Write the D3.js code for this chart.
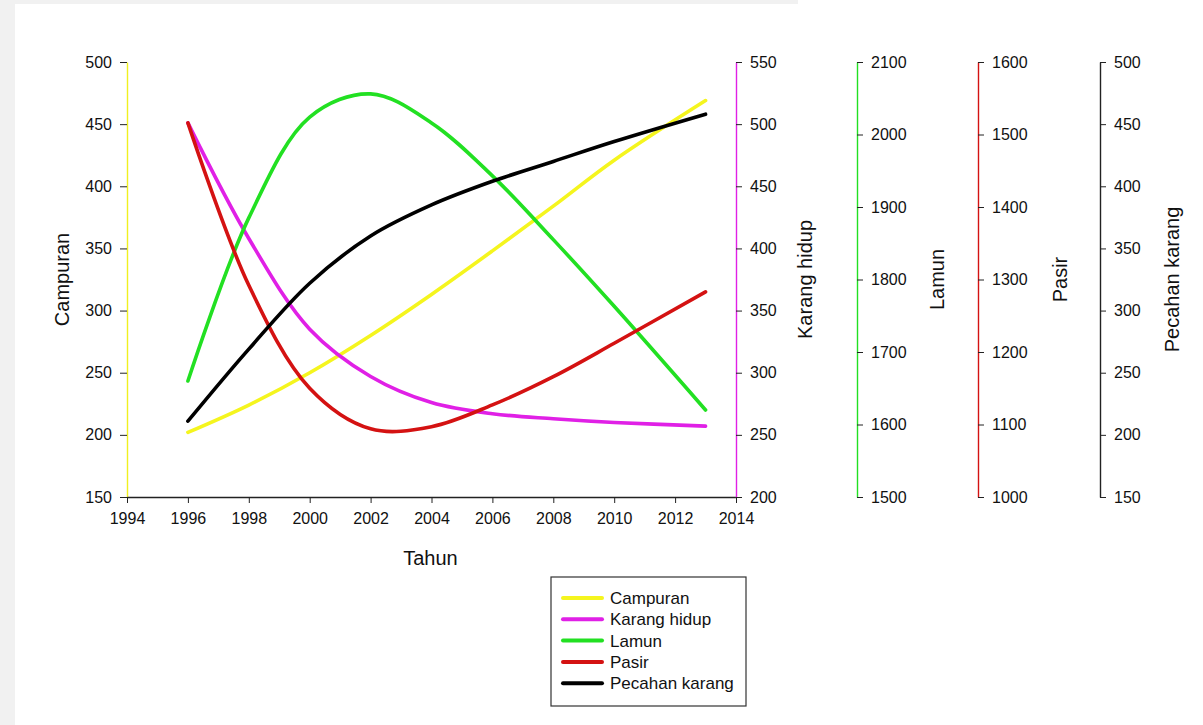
<!DOCTYPE html>
<html lang="en">
<head>
  <meta charset="UTF-8">
  <script src="https://cdn.jsdelivr.net/npm/d3@7/dist/d3.min.js"></script>
  <title>Tahun</title>
  <style>
    body { margin: 0; background: #fff; }
    * { font-family: "Liberation Sans", Arial, sans-serif; }
  </style>
</head>
<body>
<div id="chart"></div>
<script>
  // data
  var years = [1996, 1998, 2000, 2002, 2004, 2006, 2008, 2010, 2013];
  var campuran = [202, 224, 250, 280, 313, 348, 384, 421, 469];
  var karangHidup = [501, 408, 335, 297, 276, 267, 263, 260, 257];
  var lamun = [1660, 1885, 2024, 2056, 2016, 1943, 1855, 1763, 1620];
  var pasir = [1516, 1292, 1150, 1094, 1097, 1127, 1166, 1212, 1283];
  var pecahan = [211, 269, 322, 360, 385, 404, 420, 436, 458];
  var xTicks = [1994, 1996, 1998, 2000, 2002, 2004, 2006, 2008, 2010, 2012, 2014];

  var width = 1203, height = 725;
  var margin = {top: 62, left: 127};
  var plotW = 609, plotH = 435;

  var svg = d3.select("#chart").append("svg")
    .attr("width", width).attr("height", height);

  // grey frame of the screenshot
  svg.append("rect").attr("x", 0).attr("y", 0).attr("width", 15).attr("height", height).attr("fill", "#f1f1f1");
  svg.append("rect").attr("x", 0).attr("y", 0).attr("width", 798).attr("height", 4).attr("fill", "#f1f1f1");

  var g = svg.append("g").attr("transform", "translate(" + margin.left + "," + margin.top + ")");

  var x = d3.scaleLinear().domain([1994, 2014]).range([0, plotW]);
  var yCamp = d3.scaleLinear().domain([150, 500]).range([plotH, 0]);
  var yKar = d3.scaleLinear().domain([200, 550]).range([plotH, 0]);
  var yLam = d3.scaleLinear().domain([1500, 2100]).range([plotH, 0]);
  var yPas = d3.scaleLinear().domain([1000, 1600]).range([plotH, 0]);
  var yPec = d3.scaleLinear().domain([150, 500]).range([plotH, 0]);

  var series = [
    {name: "Campuran", vals: campuran, y: yCamp, color: "#f5f51e"},
    {name: "Karang hidup", vals: karangHidup, y: yKar, color: "#e020e6"},
    {name: "Lamun", vals: lamun, y: yLam, color: "#22e022"},
    {name: "Pasir", vals: pasir, y: yPas, color: "#d41212"},
    {name: "Pecahan karang", vals: pecahan, y: yPec, color: "#000000"}
  ];

  function styleAxis(sel, lineColor) {
    sel.attr("font-size", 16).attr("font-family", "'Liberation Sans', Arial, sans-serif");
    sel.selectAll("text").attr("fill", "#111");
    sel.selectAll(".tick line").attr("stroke", "#222");
    sel.select(".domain").attr("stroke", lineColor).attr("stroke-width", 1.4);
  }

  // left axis
  g.append("g")
    .call(d3.axisLeft(yCamp).tickValues(d3.range(150, 501, 50)).tickSizeInner(7).tickSizeOuter(0).tickPadding(8))
    .call(styleAxis, "#f0f020");

  // bottom axis
  g.append("g")
    .attr("transform", "translate(0," + plotH + ")")
    .call(d3.axisBottom(x).tickValues(xTicks).tickFormat(d3.format("d")).tickSizeInner(6).tickSizeOuter(0).tickPadding(10))
    .call(styleAxis, "#222");

  // right axes
  var rightAxes = [
    {scale: yKar, ticks: d3.range(200, 551, 50), pos: plotW, color: "#e020e6", title: "Karang hidup", tx: 678},
    {scale: yLam, ticks: d3.range(1500, 2101, 100), pos: 730, color: "#22e022", title: "Lamun", tx: 810},
    {scale: yPas, ticks: d3.range(1000, 1601, 100), pos: 851, color: "#d41212", title: "Pasir", tx: 933},
    {scale: yPec, ticks: d3.range(150, 501, 50), pos: 973, color: "#222", title: "Pecahan karang", tx: 1045}
  ];

  rightAxes.forEach(function(a) {
    g.append("g")
      .attr("transform", "translate(" + a.pos + ",0)")
      .call(d3.axisRight(a.scale).tickValues(a.ticks).tickFormat(d3.format("d")).tickSizeInner(6).tickSizeOuter(0).tickPadding(8))
      .call(styleAxis, a.color);
    g.append("text")
      .attr("transform", "translate(" + a.tx + "," + (plotH / 2) + ") rotate(-90)")
      .attr("text-anchor", "middle")
      .attr("dy", "0.35em")
      .attr("font-size", 20)
      .attr("fill", "#111")
      .text(a.title);
  });

  // axis titles
  g.append("text")
    .attr("transform", "translate(" + (-65) + "," + (plotH / 2) + ") rotate(-90)")
    .attr("text-anchor", "middle").attr("dy", "0.35em")
    .attr("font-size", 20).attr("fill", "#111")
    .text("Campuran");

  g.append("text")
    .attr("x", plotW / 2 - 1).attr("y", plotH + 68)
    .attr("text-anchor", "middle")
    .attr("font-size", 20).attr("fill", "#111")
    .text("Tahun");

  // lines
  series.forEach(function(s) {
    var line = d3.line()
      .x(function(d, i) { return x(years[i]); })
      .y(function(d) { return s.y(d); })
      .curve(d3.curveCatmullRom.alpha(0.5));
    g.append("path")
      .datum(s.vals)
      .attr("fill", "none")
      .attr("stroke", s.color)
      .attr("stroke-width", 3.6)
      .attr("stroke-linecap", "round")
      .attr("d", line);
  });

  // legend
  var lg = svg.append("g").attr("transform", "translate(551,577)");
  lg.append("rect").attr("width", 195).attr("height", 129)
    .attr("fill", "#fff").attr("stroke", "#333").attr("stroke-width", 1.2);
  var item = lg.selectAll(".item").data(series).enter().append("g")
    .attr("transform", function(d, i) { return "translate(0," + (21 + i * 21.3) + ")"; });
  item.append("line").attr("x1", 12).attr("x2", 51)
    .attr("stroke", function(d) { return d.color; }).attr("stroke-width", 4)
    .attr("stroke-linecap", "round");
  item.append("text").attr("x", 59).attr("dy", "0.35em")
    .attr("font-size", 17).attr("fill", "#111")
    .text(function(d) { return d.name; });
</script>
</body>
</html>
